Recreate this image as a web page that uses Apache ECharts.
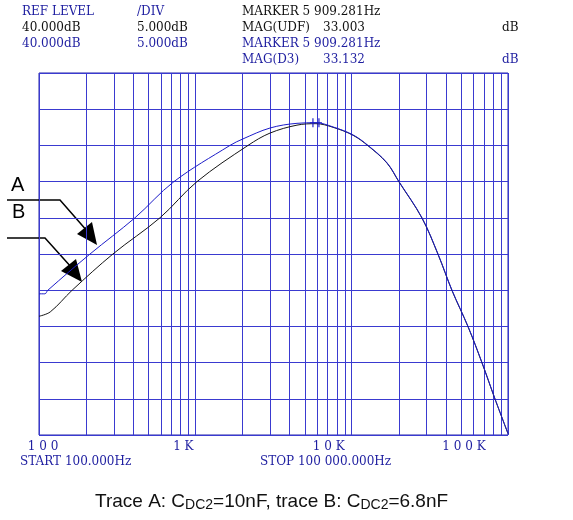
<!DOCTYPE html>
<html><head><meta charset="utf-8">
<script src="https://cdn.jsdelivr.net/npm/echarts@6/dist/echarts.min.js"></script>
<style>html,body{margin:0;padding:0;background:#fff}#c{width:573px;height:520px}</style>
</head><body><div id="c"></div>
<script>
// ---- data ----
const freqA = [100, 109, 114, 212, 411, 730, 1667, 2018, 3003, 4470, 5909, 7600, 10200, 12720, 16830, 20080, 28180, 35670, 43830, 55500, 68200, 82600, 100000];
const magA  = [9.5, 9.5, 10.0, 15.0, 20.0, 25.0, 30.0, 30.9, 32.4, 33.05, 33.13, 32.55, 31.45, 30.0, 27.6, 25.0, 20.0, 15.0, 10.0, 5.0, 0.0, -5.0, -9.8];
const freqB = [100, 118, 163, 297, 594, 1025, 2173, 3003, 4470, 5909, 7600, 10200, 12720, 16830, 20080, 28180, 35670, 43830, 55500, 68200, 82600, 100000];
const magB  = [6.4, 7.0, 10.0, 15.0, 20.0, 25.0, 30.0, 31.7, 32.8, 33.0, 32.5, 31.4, 29.95, 27.55, 24.95, 19.95, 14.95, 9.95, 4.95, -0.05, -5.05, -9.8];
const xTickValues = [100, 1000, 10000, 100000];
const xTickLabels = ['1 0 0', '1 K', '1 0 K', '1 0 0 K'];
const minorFreqs = [200,300,400,500,600,700,800,900,2000,3000,4000,5000,6000,7000,8000,9000,20000,30000,40000,50000,60000,70000,80000,90000];
const markerFreq = 5909.281, markerMag = 33.132;
const yMin = -10, yMax = 40, yStep = 5;

const GRID_C = '#3a3ad0';
const BLUE_TXT = '#1e1ea0';
const chart = echarts.init(document.getElementById('c'), null, {renderer: 'canvas'});
const zip = (f, m) => f.map((v, i) => [v, m[i]]);
const labelRich = {
  r0: {padding: [0, 0, 0, 8]},
  r1: {padding: [0, 24, 0, 0]},
  r2: {padding: [0, 46, 0, 0]},
  r3: {padding: [0, 88, 0, 0]}
};
const serif = 'DejaVu Serif';
function txt(x, y, s, color) {
  return {type: 'text', left: x, top: y, style: {text: s, fill: color, font: '12px "' + serif + '"'}};
}
const option = {
  animation: false,
  backgroundColor: '#fff',
  grid: {left: 39, top: 73, width: 469, height: 362, show: true, borderColor: '#2424a8', borderWidth: 1},
  xAxis: {
    type: 'log', logBase: 10, min: 100, max: 100000,
    axisLine: {show: false}, axisTick: {show: false},
    splitLine: {show: true, lineStyle: {color: GRID_C, width: 1}},
    axisLabel: {
      show: true, margin: 6, showMinLabel: true, showMaxLabel: true,
      color: BLUE_TXT, fontFamily: serif, fontSize: 12,
      formatter: function (v) {
        const i = xTickValues.findIndex(t => Math.abs(t - v) / t < 1e-6);
        return i < 0 ? '' : '{r' + i + '|' + xTickLabels[i] + '}';
      },
      rich: labelRich
    }
  },
  yAxis: {
    type: 'value', min: yMin, max: yMax, interval: yStep,
    axisLine: {show: false}, axisTick: {show: false}, axisLabel: {show: false},
    splitLine: {show: true, lineStyle: {color: GRID_C, width: 1}}
  },
  series: [
    {
      type: 'custom', z: 1, silent: true,
      data: minorFreqs,
      encode: {x: 0},
      itemStyle: {color: GRID_C},
      renderItem: function (params, api) {
        const f = api.value(0);
        const p1 = api.coord([f, yMin]);
        const p2 = api.coord([f, yMax]);
        const x = Math.round(p1[0]) + 0.5;
        return {type: 'line', shape: {x1: x, y1: p1[1], x2: x, y2: p2[1]},
                style: {stroke: GRID_C, lineWidth: 1, fill: null}};
      }
    },
    {
      name: 'B', type: 'line', z: 3, data: zip(freqB, magB), showSymbol: false, smooth: 0.35,
      lineStyle: {color: '#151515', width: 1}
    },
    {
      name: 'A', type: 'line', z: 4, data: zip(freqA, magA), showSymbol: false, smooth: 0.35,
      lineStyle: {color: '#1c1cc8', width: 1},
      markPoint: {
        symbol: 'path://M0,5 L12,5 M3,1 L3,9 M9,1 L9,9', symbolSize: [12, 9],
        itemStyle: {color: 'none', borderColor: '#1c1cc8', borderWidth: 1},
        label: {show: false},
        data: [{coord: [markerFreq, markerMag]}]
      }
    }
  ],
  graphic: [
    txt(22, 6, 'REF LEVEL', BLUE_TXT),
    txt(137, 6, '/DIV', BLUE_TXT),
    txt(242, 6, 'MARKER 5 909.281Hz', '#111'),
    txt(22, 22, '40.000dB', '#111'),
    txt(137, 22, '5.000dB', '#111'),
    txt(242, 22, 'MAG(UDF)', '#111'),
    txt(323, 22, '33.003', '#111'),
    txt(502, 22, 'dB', '#111'),
    txt(22, 38, '40.000dB', BLUE_TXT),
    txt(137, 38, '5.000dB', BLUE_TXT),
    txt(242, 38, 'MARKER 5 909.281Hz', BLUE_TXT),
    txt(242, 54, 'MAG(D3)', BLUE_TXT),
    txt(323, 54, '33.132', BLUE_TXT),
    txt(502, 54, 'dB', BLUE_TXT),
    txt(20, 456, 'START 100.000Hz', BLUE_TXT),
    txt(260, 456, 'STOP 100 000.000Hz', BLUE_TXT),
    // annotations
    {type: 'text', left: 11, top: 175, style: {text: 'A', fill: '#000', font: '20px "Liberation Sans"'}},
    {type: 'text', left: 12, top: 202, style: {text: 'B', fill: '#000', font: '20px "Liberation Sans"'}},
    {type: 'polyline', shape: {points: [[7, 200], [60, 200], [88, 232]]}, style: {stroke: '#000', lineWidth: 1.5, fill: 'none'}},
    {type: 'polygon', shape: {points: [[97, 245], [77, 234], [92, 222]]}, style: {fill: '#000'}},
    {type: 'polyline', shape: {points: [[7, 238], [45, 238], [72, 268]]}, style: {stroke: '#000', lineWidth: 1.5, fill: 'none'}},
    {type: 'polygon', shape: {points: [[82, 282], [61, 271], [76, 259]]}, style: {fill: '#000'}},
    // caption
    {type: 'text', left: 95, top: 492, style: {
      text: 'Trace A: C{s|DC2}=10nF, trace B: C{s|DC2}=6.8nF',
      fill: '#111', font: '19px "Liberation Sans"',
      rich: {s: {fontSize: 14, fontFamily: 'Liberation Sans', fill: '#111', verticalAlign: 'bottom', padding: [8, 0, 0, 0]}}
    }}
  ]
};
chart.setOption(option);
</script>
</body></html>
